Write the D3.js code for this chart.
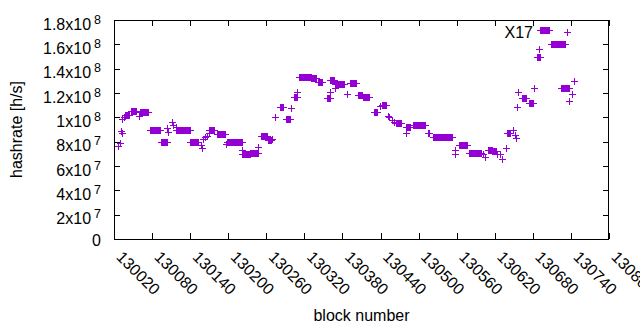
<!DOCTYPE html>
<html><head><meta charset="utf-8">
<script src="https://cdn.jsdelivr.net/npm/d3@7"></script>
<style>
body{margin:0;background:#fff}
svg{display:block}
text{font-family:"Liberation Sans",Arial,sans-serif;fill:#000}
</style>
</head><body>
<svg id="chart" width="640" height="330"></svg>
<script>
// ---- data: runs of consecutive blocks sharing one hashrate (h/s) ----
const seriesName = "X17";
const runStart = [130026,130029,130031,130032,130033,130036,130037,130047,130059,130061,130076,130094,130104,130105,130111,130113,130117,130118,130140,130157,130158,130160,130163,130166,130169,130169,130183,130197,130198,130222,130222,130235,130247,130251,130262,130269,130274,130281,130291,130299,130303,130308,130311,130331,130342,130356,130355,130360,130360,130368,130369,130387,130392,130404,130413,130429,130439,130442,130452,130454,130458,130461,130465,130480,130480,130491,130515,130516,130522,130557,130558,130564,130580,130601,130604,130609,130616,130624,130629,130631,130638,130639,130649,130652,130654,130655,130657,130663,130674,130682,130686,130690,130691,130708,130724,130737,130742,130745];
const runEnd   = [130026,130029,130031,130032,130033,130036,130044,130055,130059,130074,130092,130104,130104,130105,130111,130113,130117,130139,130152,130157,130158,130160,130163,130166,130169,130178,130195,130197,130221,130222,130234,130247,130247,130261,130268,130269,130274,130287,130298,130299,130308,130308,130330,130338,130348,130356,130361,130360,130366,130368,130383,130387,130401,130410,130422,130435,130439,130448,130452,130454,130458,130461,130473,130480,130486,130510,130515,130516,130552,130557,130558,130576,130599,130601,130604,130616,130622,130624,130629,130631,130638,130644,130649,130652,130654,130655,130657,130669,130680,130682,130691,130690,130706,130730,130737,130737,130742,130745];
const runValue = [7.65e7,7.9e7,8.9e7,8.7e7,9.9e7,10.0e7,10.2e7,10.5e7,10.1e7,10.4e7,9.0e7,8.0e7,9.1e7,8.8e7,9.6e7,9.4e7,9.2e7,9.0e7,7.95e7,7.75e7,7.5e7,8.2e7,8.35e7,8.5e7,8.7e7,8.95e7,8.6e7,7.8e7,7.95e7,7.3e7,7.0e7,7.05e7,7.55e7,8.5e7,8.1e7,8.25e7,10.0e7,10.85e7,9.85e7,10.8e7,11.65e7,12.1e7,13.35e7,13.2e7,12.9e7,11.55e7,11.6e7,12.1e7,13.1e7,12.4e7,12.75e7,11.95e7,12.8e7,11.8e7,11.7e7,10.45e7,10.9e7,11.05e7,10.1e7,10.0e7,9.8e7,9.6e7,9.5e7,8.75e7,9.2e7,9.37e7,8.75e7,8.7e7,8.38e7,6.95e7,7.3e7,7.72e7,7.1e7,6.95e7,6.7e7,7.3e7,7.2e7,7.0e7,7.0e7,6.6e7,7.5e7,8.75e7,8.95e7,8.55e7,8.3e7,10.85e7,12.1e7,11.6e7,11.15e7,12.4e7,14.95e7,15.6e7,17.15e7,16.05e7,12.45e7,11.35e7,11.9e7,13.0e7];

const xTicks = [130020,130080,130140,130200,130260,130320,130380,130440,130500,130560,130620,130680,130740,130800];
const yTicks = [0,2e7,4e7,6e7,8e7,1e8,1.2e8,1.4e8,1.6e8,1.8e8];
const yTickMantissa = ["0","2x10","4x10","6x10","8x10","1x10","1.2x10","1.4x10","1.6x10","1.8x10"];
const yTickExponent = ["","7","7","7","7","8","8","8","8","8"];
const xTitle = "block number";
const yTitle = "hashrate [h/s]";

// ---- build points (one per block) ----
const points = [];
runStart.forEach((s, i) => {
  for (let b = s; b <= runEnd[i]; b++) points.push({block: b, rate: runValue[i]});
});

const L = 114, R = 609, T = 20, B = 239;
const FS = 16;
const color = "#9400d3";
const svg = d3.select("#chart");
const x = d3.scaleLinear().domain([130020, 130800]).range([L, R]);
const y = d3.scaleLinear().domain([0, 1.8e8]).range([B, T]);

// axes
const gx = svg.append("g").attr("transform", `translate(0,${B})`)
  .call(d3.axisBottom(x).tickValues(xTicks).tickSizeInner(-6).tickSizeOuter(0).tickFormat(d3.format("d")));
gx.select(".domain").remove();
gx.selectAll("text").attr("x", 0).attr("y", 0).attr("dy", null)
  .attr("text-anchor", "start").attr("font-size", FS)
  .attr("transform", "translate(1,19) rotate(45)");

const gx2 = svg.append("g").attr("transform", `translate(0,${T})`)
  .call(d3.axisTop(x).tickValues(xTicks).tickSizeInner(-6).tickSizeOuter(0).tickFormat(""));
gx2.select(".domain").remove();

const gy = svg.append("g").attr("transform", `translate(${L},0)`)
  .call(d3.axisLeft(y).tickValues(yTicks).tickSizeInner(-6).tickSizeOuter(0).tickPadding(13));
gy.select(".domain").remove();
gy.selectAll("text").each(function(d, i) {
  const t = d3.select(this).text(null).attr("dy", null).attr("font-size", FS)
    .attr("y", yTickExponent[i] ? 9 : 6);
  t.append("tspan").text(yTickMantissa[i]);
  if (yTickExponent[i]) t.append("tspan").attr("dx", 3).attr("dy", -6).attr("font-size", 12.5).text(yTickExponent[i]);
});

const gy2 = svg.append("g").attr("transform", `translate(${R},0)`)
  .call(d3.axisRight(y).tickValues(yTicks).tickSizeInner(-6).tickSizeOuter(0).tickFormat(""));
gy2.select(".domain").remove();

svg.selectAll(".tick line").attr("stroke", "#000").attr("shape-rendering", "crispEdges");

// frame
svg.append("rect").attr("x", L + 0.5).attr("y", T + 0.5).attr("width", R - L - 1).attr("height", B - T)
  .attr("fill", "none").attr("stroke", "#000").attr("shape-rendering", "crispEdges");

// points
const plus = (px, py) => `M${px - 3.5},${py}h7M${px},${py - 3.5}v7`;
svg.append("path")
  .attr("d", points.map(p => plus(Math.round(x(p.block)) + 0.5, Math.round(y(p.rate)) + 0.5)).join(""))
  .attr("stroke", color).attr("stroke-width", 1).attr("fill", "none").attr("shape-rendering", "crispEdges");

// key
svg.append("text").attr("x", 533).attr("y", 38).attr("text-anchor", "end").attr("font-size", FS).text(seriesName);
svg.append("path").attr("d", plus(567.5, 32.5)).attr("stroke", color).attr("fill", "none").attr("shape-rendering", "crispEdges");

// titles
svg.append("text").attr("x", (L + R) / 2).attr("y", 321).attr("text-anchor", "middle").attr("font-size", FS).text(xTitle);
svg.append("text").attr("transform", `translate(22,${(T + B) / 2}) rotate(-90)`).attr("text-anchor", "middle").attr("font-size", FS).text(yTitle);
</script>
</body></html>
